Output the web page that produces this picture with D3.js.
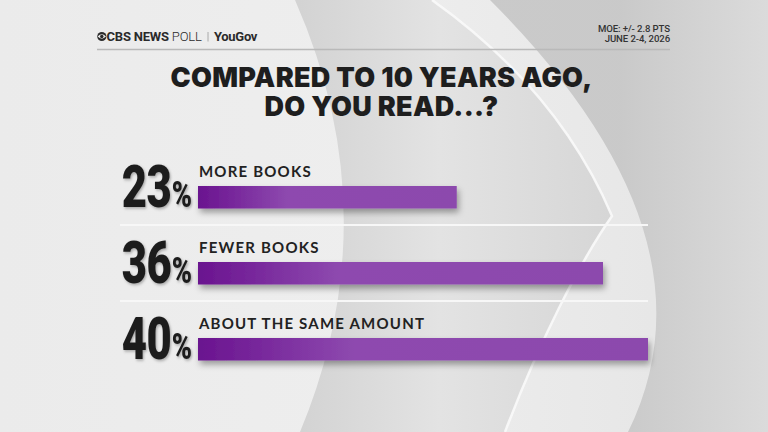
<!DOCTYPE html>
<html>
<head>
<meta charset="utf-8">
<script src="https://cdn.jsdelivr.net/npm/d3@7"></script>
<style>
  html, body { margin: 0; padding: 0; background: #e9e9e9; }
  #wrap { position: relative; width: 768px; height: 432px; overflow: hidden; }
  svg { display: block; position: absolute; left: 0; top: 0; }
  .ov { position: absolute; white-space: pre; margin: 0; padding: 0; }
</style>
</head>
<body>
<div id="wrap"><svg id="chart" width="768" height="432"></svg></div>
<script>
// ---- data ----
const categories = ["MORE BOOKS", "FEWER BOOKS", "ABOUT THE SAME AMOUNT"];
const values = [23, 36, 40];
const titleLines = ["COMPARED TO 10 YEARS AGO,", "DO YOU READ...?"];
const moeLines = ["MOE: +/- 2.8 PTS", "JUNE 2-4, 2026"];

const W = 768, H = 432;
const wrap = d3.select("#wrap");
const svg = d3.select("#chart");
const defs = svg.append("defs");

// gradients
const bgGrad = defs.append("linearGradient").attr("id", "bgGrad")
  .attr("x1", 0).attr("x2", 1).attr("y1", 0).attr("y2", 0);
bgGrad.append("stop").attr("offset", 0).attr("stop-color", "#ebebeb");
bgGrad.append("stop").attr("offset", 0.5).attr("stop-color", "#eeeeee");
bgGrad.append("stop").attr("offset", 1).attr("stop-color", "#e4e4e4");

const swGrad = defs.append("linearGradient").attr("id", "swGrad")
  .attr("gradientUnits", "userSpaceOnUse")
  .attr("x1", 300).attr("x2", 610).attr("y1", 0).attr("y2", 0);
swGrad.append("stop").attr("offset", 0).attr("stop-color", "#d3d3d3");
swGrad.append("stop").attr("offset", 0.45).attr("stop-color", "#e3e3e3");
swGrad.append("stop").attr("offset", 1).attr("stop-color", "#d6d6d6");

const outGrad = defs.append("linearGradient").attr("id", "outGrad")
  .attr("gradientUnits", "userSpaceOnUse")
  .attr("x1", 620).attr("x2", 768).attr("y1", 0).attr("y2", 0);
outGrad.append("stop").attr("offset", 0).attr("stop-color", "#c6c6c6");
outGrad.append("stop").attr("offset", 1).attr("stop-color", "#dadada");

const barGrad = defs.append("linearGradient").attr("id", "barGrad")
  .attr("x1", 0).attr("x2", 1).attr("y1", 0).attr("y2", 0);
barGrad.append("stop").attr("offset", 0).attr("stop-color", "#6a148f");
barGrad.append("stop").attr("offset", 0.12).attr("stop-color", "#76259a");
barGrad.append("stop").attr("offset", 0.35).attr("stop-color", "#8e4aaf");
barGrad.append("stop").attr("offset", 1).attr("stop-color", "#8c4aad");

const shadow = defs.append("filter").attr("id", "shadow")
  .attr("x", "-10%").attr("y", "-50%").attr("width", "120%").attr("height", "220%");
shadow.append("feDropShadow").attr("dx", 2).attr("dy", 4).attr("stdDeviation", 3)
  .attr("flood-color", "#000").attr("flood-opacity", 0.35);

const txtShadow = defs.append("filter").attr("id", "txtShadow")
  .attr("x", "-20%").attr("y", "-20%").attr("width", "140%").attr("height", "140%");
txtShadow.append("feDropShadow").attr("dx", 1.5).attr("dy", 1.5).attr("stdDeviation", 1.5)
  .attr("flood-color", "#000").attr("flood-opacity", 0.3);

// ---- background decoration ----
svg.append("rect").attr("width", W).attr("height", H).attr("fill", "url(#bgGrad)");
svg.append("path")
  .attr("d", "M490,0 Q725,235 628,432 L768,432 L768,0 Z")
  .attr("fill", "url(#outGrad)").attr("opacity", 0.9);
svg.append("path")
  .attr("d", "M295,0 Q390,216 300,432 L505,432 C540,340 580,262 612,216 C572,122 505,52 432,0 Z")
  .attr("fill", "url(#swGrad)");
svg.append("path")
  .attr("d", "M432,0 C505,52 572,122 612,216 C580,262 540,340 505,432")
  .attr("fill", "none").attr("stroke", "#fafafa").attr("stroke-width", 2.5).attr("opacity", 0.9);

// ---- header ----
const hdr = svg.append("g");
// CBS eye
hdr.append("circle").attr("cx", 101.8).attr("cy", 36.5).attr("r", 4.6).attr("fill", "#2a2a2a");
hdr.append("path").attr("d", "M97.6,36.5 Q101.8,32.2 106,36.5 Q101.8,40.8 97.6,36.5 Z").attr("fill", "#e9e9e9");
hdr.append("circle").attr("cx", 101.8).attr("cy", 36.5).attr("r", 1.7).attr("fill", "#2a2a2a");

const hText = hdr.append("text").attr("x", 106.5).attr("y", 41)
  .attr("font-family", "Roboto, 'Open Sans', sans-serif").attr("font-size", 13)
  .attr("fill", "#2a2a2a").attr("letter-spacing", -0.2);
hText.append("tspan").attr("font-weight", 700).text("CBS NEWS ");
hText.append("tspan").attr("font-weight", 300).text("POLL");
hdr.append("line").attr("x1", 208).attr("x2", 208).attr("y1", 32).attr("y2", 41.5)
  .attr("stroke", "#999").attr("stroke-width", 0.8);
hdr.append("text").attr("x", 214).attr("y", 41)
  .attr("font-family", "Roboto, sans-serif").attr("font-size", 13).attr("font-weight", 700)
  .attr("fill", "#2a2a2a").attr("letter-spacing", -0.3).text("YouGov");

hdr.append("line").attr("x1", 97).attr("x2", 670).attr("y1", 49.5).attr("y2", 49.5)
  .attr("stroke", "#b9b9b9").attr("stroke-width", 1.5);

// MOE block (one multi-line text block)
wrap.append("div").attr("class", "ov")
  .style("right", (W - 670) + "px").style("top", "24.4px")
  .style("text-align", "right")
  .style("font-family", "Roboto, sans-serif").style("font-size", "9.6px").style("font-weight", 500)
  .style("line-height", "9.2px").style("letter-spacing", "-0.1px").style("color", "#333")
  .text(moeLines.join("\n"));

// ---- title (one multi-line text block) ----
wrap.append("div").attr("class", "ov")
  .style("left", "0px").style("width", "763px").style("top", "64.3px")
  .style("text-align", "center")
  .style("font-family", "Inter, 'Open Sans', sans-serif").style("font-size", "27px").style("font-weight", 900)
  .style("line-height", "28.4px").style("letter-spacing", "0.3px").style("color", "#1e1e1e")
  .text(titleLines.join("\n"));

// ---- scales ----
const x = d3.scaleLinear().domain([0, 40]).range([198, 648]);
const y = d3.scaleBand().domain(categories).range([149, 377]).paddingInner(0).paddingOuter(0);

const rows = svg.selectAll("g.row").data(categories.map((c, i) => ({ c, v: values[i], i })))
  .join("g").attr("class", "row");

// separators
rows.filter(d => d.i > 0).append("line")
  .attr("x1", 120).attr("x2", x(40)).attr("y1", d => y(d.c)).attr("y2", d => y(d.c))
  .attr("stroke", "#f7f7f7").attr("stroke-width", 2);

// bars
rows.append("rect")
  .attr("x", x(0)).attr("y", d => y(d.c) + 37)
  .attr("width", d => x(d.v) - x(0)).attr("height", 22.5)
  .attr("fill", "url(#barGrad)").attr("filter", "url(#shadow)");

// category labels
rows.append("text")
  .attr("x", x(0) + 1).attr("y", d => y(d.c) + 28)
  .attr("font-family", "Lato, 'Open Sans', sans-serif").attr("font-size", 15).attr("font-weight", 700)
  .attr("fill", "#222").attr("letter-spacing", 1.2).text(d => d.c);

// percentage numbers (condensed)
rows.append("g")
  .attr("transform", d => `translate(192, ${y(d.c) + 58}) scale(0.74, 1)`)
  .append("text")
  .attr("text-anchor", "end")
  .attr("font-family", "Roboto, 'Liberation Sans', sans-serif").attr("font-weight", 900)
  .attr("fill", "#1f1f1f").attr("filter", "url(#txtShadow)")
  .call(t => {
    t.append("tspan").attr("font-size", 59).attr("letter-spacing", -1).text(d => d.v);
    t.append("tspan").attr("font-size", 37).attr("dx", 1).text("%");
  });
</script>
</body>
</html>
